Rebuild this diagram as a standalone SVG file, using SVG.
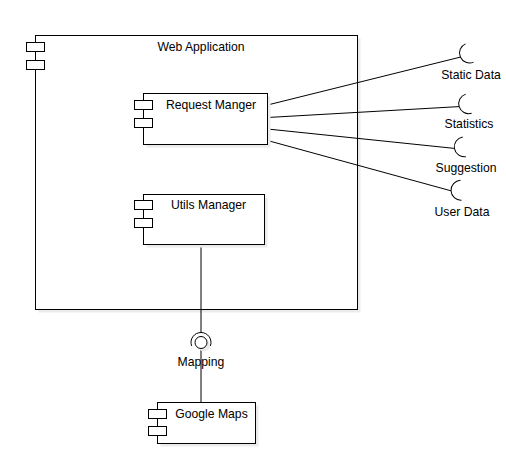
<svg xmlns="http://www.w3.org/2000/svg" width="506" height="458" viewBox="0 0 506 458">
<style>
.box{fill:#fff;stroke:#000;stroke-width:1}
.shadow{fill:#ebebeb;stroke:none}
.port{fill:#fff;stroke:#000;stroke-width:1}
.edge{fill:none;stroke:#000;stroke-width:1}
.arc{fill:none;stroke:#000;stroke-width:1}
text{font-family:"Liberation Sans",Arial,sans-serif;font-size:12.2px;fill:#000;text-anchor:middle}
</style>
<defs>
<path id="req" d="M0,-10 A10,10 0 0 0 0,10"/>
</defs>
<rect width="506" height="458" fill="#fff"/>

<g id="web-application">
<rect class="shadow" x="38.5" y="38.5" width="322" height="274"/>
<rect class="box" x="35.5" y="35.5" width="322" height="274"/>
<rect class="port" x="26.5" y="42.5" width="18" height="9"/>
<rect class="port" x="26.5" y="60.5" width="18" height="9"/>
<text x="201" y="50.5">Web Application</text>
</g>

<g id="connectors">
<line class="edge" x1="267.5" y1="105" x2="460.4" y2="57.1"/>
<line class="edge" x1="267.5" y1="117.5" x2="459.1" y2="106.6"/>
<line class="edge" x1="267.5" y1="129" x2="454.4" y2="148.4"/>
<line class="edge" x1="267.5" y1="140.5" x2="451" y2="190.8"/>
<line class="edge" x1="201" y1="244.5" x2="201" y2="332.5"/>
<line class="edge" x1="201" y1="348.5" x2="201" y2="402.5"/>
</g>

<g id="request-manger">
<rect class="shadow" x="146.5" y="96.5" width="124" height="51"/>
<rect class="box" x="143.5" y="93.5" width="124" height="51"/>
<rect class="port" x="134.5" y="100.5" width="18" height="9"/>
<rect class="port" x="134.5" y="118.5" width="18" height="9"/>
<text x="211" y="108.6">Request Manger</text>
</g>

<g id="utils-manager">
<rect class="shadow" x="146.5" y="197.5" width="121" height="50"/>
<rect class="box" x="143.5" y="194.5" width="121" height="50"/>
<rect class="port" x="134.5" y="200.5" width="18" height="9"/>
<rect class="port" x="134.5" y="218.5" width="18" height="9"/>
<text x="208.5" y="209.3">Utils Manager</text>
</g>

<g id="google-maps">
<rect class="shadow" x="160.5" y="405.5" width="98" height="41"/>
<rect class="box" x="157.5" y="402.5" width="98" height="41"/>
<rect class="port" x="148.5" y="409.5" width="18" height="9"/>
<rect class="port" x="148.5" y="426.5" width="18" height="9"/>
<text x="211.5" y="418">Google Maps</text>
</g>

<g id="mapping">
<circle class="shadow" cx="204" cy="345.5" r="6"/>
<path class="arc" d="M191.6,345.9 A10,10 0 1 1 210.4,345.9"/>
<circle cx="201" cy="342.5" r="6" fill="#fff" stroke="#000" stroke-width="1"/>
<text x="201" y="366">Mapping</text>
</g>

<g id="static-data">
<use href="#req" class="arc" transform="translate(469.5,53) rotate(-24)"/>
<text x="471" y="78.6">Static Data</text>
</g>

<g id="statistics">
<use href="#req" class="arc" transform="translate(468.7,103.7) rotate(-17)"/>
<text x="469" y="128">Statistics</text>
</g>

<g id="suggestion">
<use href="#req" class="arc" transform="translate(464.3,146.8) rotate(-9)"/>
<text x="466" y="172">Suggestion</text>
</g>

<g id="user-data">
<use href="#req" class="arc" transform="translate(461,190.3) rotate(-3)"/>
<text x="462" y="215.5">User Data</text>
</g>
</svg>
